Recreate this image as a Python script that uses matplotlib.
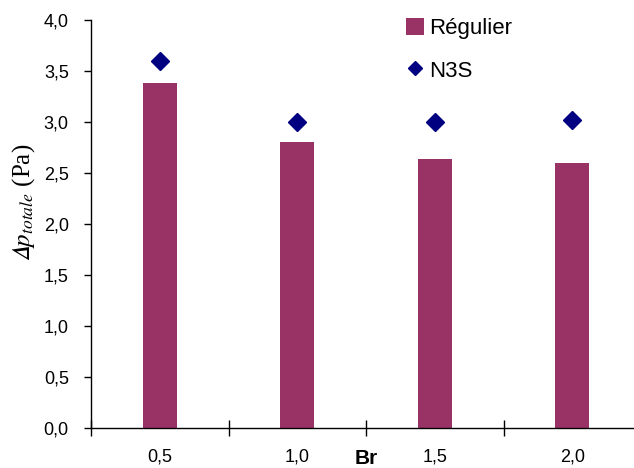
import matplotlib
matplotlib.use("Agg")
import matplotlib.pyplot as plt
import numpy as np

categories = ["0,5", "1,0", "1,5", "2,0"]
regulier = [3.38, 2.80, 2.64, 2.60]
n3s = [3.60, 3.00, 3.00, 3.02]
yticklabels = ["0,0", "0,5", "1,0", "1,5", "2,0", "2,5", "3,0", "3,5", "4,0"]

plt.rcParams['font.family'] = ['Liberation Sans', 'DejaVu Sans']
plt.rcParams['mathtext.fontset'] = 'stix'

fig = plt.figure(figsize=(6.34, 4.68), dpi=100)
ax = fig.add_axes([91/634, 40/468, 550/634, 408/468])

x = np.arange(len(categories))
bars = ax.bar(x, regulier, width=0.25, color='#993366', label='Régulier', zorder=2)
pts, = ax.plot(x, n3s, linestyle='none', marker='D', markersize=9.5, color='#000080',
               label='N3S', zorder=3)

ax.set_xlim(-0.5, len(categories) - 0.5)
ax.set_ylim(0, 4.0)
ax.set_yticks(np.arange(0, 4.01, 0.5))
ax.set_yticklabels(yticklabels, fontsize=13)
ax.tick_params(axis='y', direction='out', length=5, width=1, pad=11)

ax.set_xticks(x)
ax.set_xticklabels(categories, fontsize=13)
ax.set_xticks(np.arange(-0.5, len(categories) + 0.5, 1.0), minor=True)
ax.tick_params(axis='x', which='major', length=0, pad=15)
ax.tick_params(axis='x', which='minor', direction='inout', length=12, width=1)

for s in ['top', 'right']:
    ax.spines[s].set_visible(False)
for s in ['left', 'bottom']:
    ax.spines[s].set_linewidth(1)
    ax.spines[s].set_color('black')

ax.set_xlabel('Br', fontsize=15, fontweight='bold', labelpad=-12)
ax.set_ylabel('$\U0001D6E5p_{\\mathit{totale}}$ (Pa)', fontsize=18,
              family='Liberation Serif')
ax.yaxis.set_label_coords(-0.098, 0.554)

fig.legend(handles=[bars, pts], loc='upper left',
           bbox_to_anchor=(406/634, 1 - 18/468), frameon=False,
           fontsize=16, handlelength=0.8, handleheight=0.8, handletextpad=0.25,
           labelspacing=0.95, markerscale=0.8, borderpad=0, borderaxespad=0)

fig.savefig('out.png', dpi=100)
